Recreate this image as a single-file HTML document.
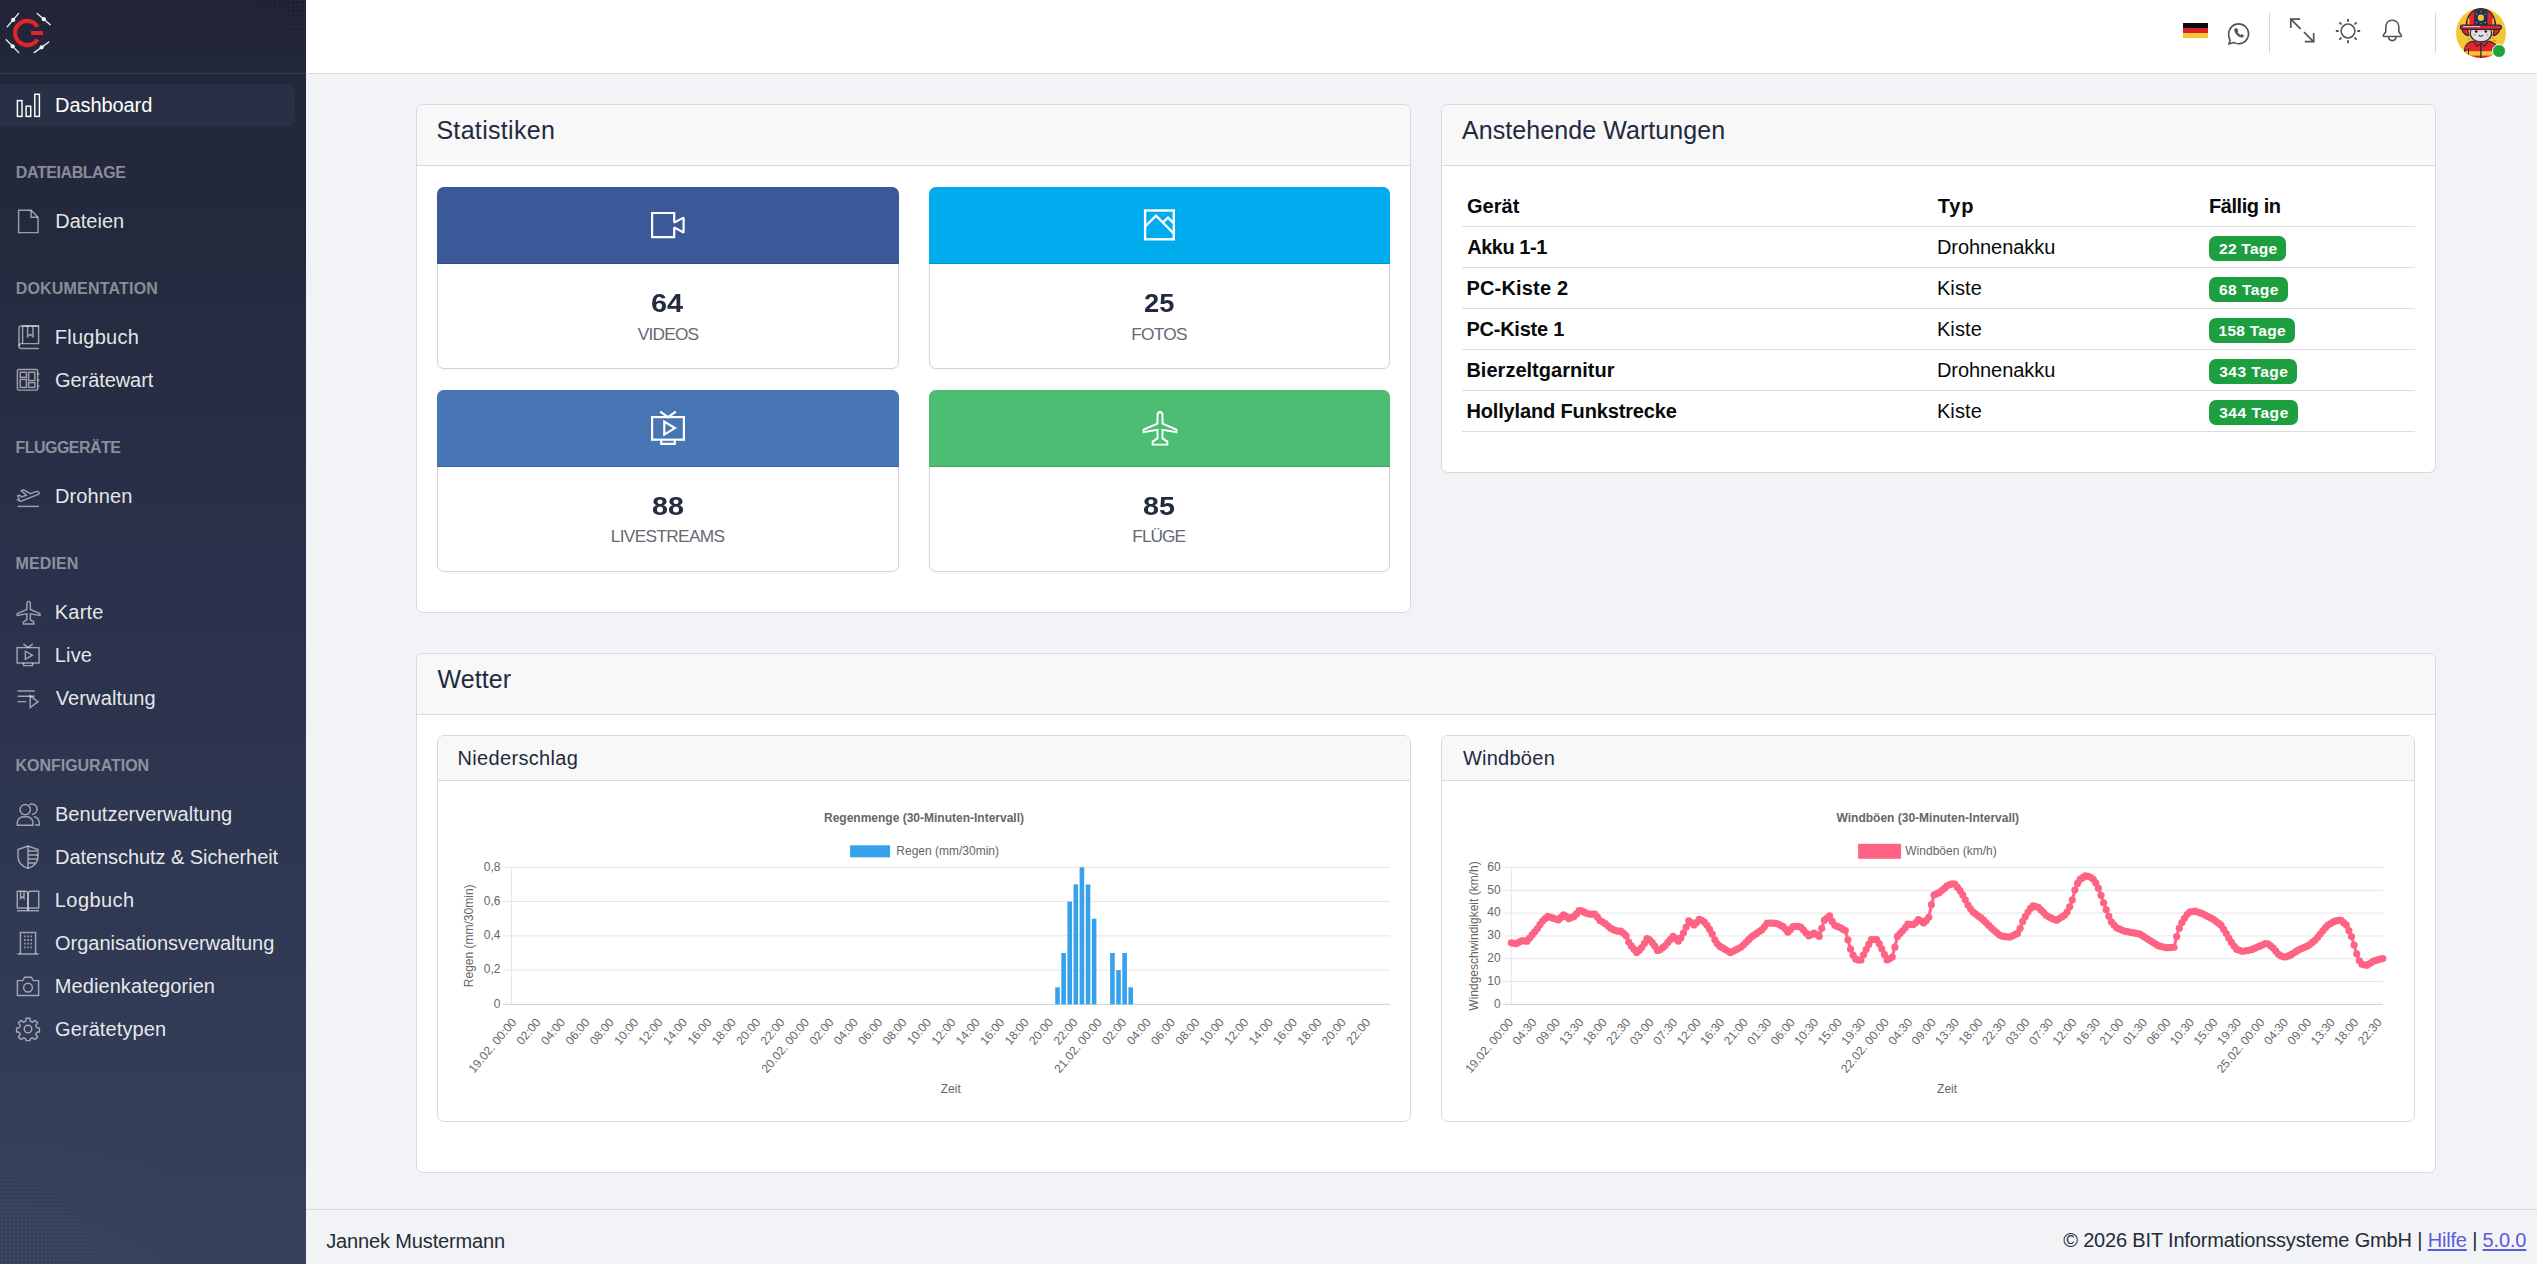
<!DOCTYPE html>
<html lang="de"><head><meta charset="utf-8"><title>Dashboard</title>
<style>
*{box-sizing:border-box;margin:0;padding:0}
html,body{width:2537px;height:1264px;overflow:hidden}
body{position:relative;background:#f2f3f7;font-family:"Liberation Sans", Arial, sans-serif;-webkit-font-smoothing:antialiased}
.t{position:absolute;white-space:nowrap;line-height:1}
.t a{color:#5b5bd8;text-decoration:underline;text-underline-offset:2px}
.ic{position:absolute;overflow:visible}
#sb{position:absolute;left:0;top:0;width:306px;height:1264px;background:linear-gradient(180deg,#212537 0%,#242a3e 20%,#2a314a 45%,#2f3852 70%,#36415b 100%)}
#hd{position:absolute;left:306px;top:0;width:2231px;height:74px;background:#fff;border-bottom:1px solid #d8dbe2}
.card{position:absolute;background:#fff;border:1px solid #d6d8dd;border-radius:7px;overflow:hidden}
.ch{background:#f8f8f9;border-bottom:1px solid #d6d8dd}
.sbox{position:absolute;background:#fff;border:1px solid #d3d5da;border-radius:7px;box-shadow:0 1px 2px rgba(0,0,0,.04)}
.sbox .sh{border-radius:7px 7px 0 0}
.sh{position:absolute;left:-1px;right:-1px;top:-1px;height:77px;box-shadow:inset 0 -1px 0 rgba(0,0,0,.14)}
.badge{position:absolute;height:24.6px;border-radius:7px;background:#1d9f40}
</style></head>
<body>
<div id="sb">
<svg style="position:absolute;left:0;top:0" width="64" height="64" viewBox="0 0 64 64">
<g stroke="#f2f2f2" stroke-width="1.3" stroke-linecap="round" fill="#f4f4f4">
<path d="M7.2 26.8L18.6 13.4M37.2 13.4L50.2 24.8M6.2 39.8L18.8 52.6M34.2 52.6L48.8 42"/>
<circle cx="13.2" cy="19.9" r="2.1" stroke="none"/><circle cx="43.8" cy="19.2" r="2.1" stroke="none"/>
<circle cx="12.6" cy="46.3" r="2.1" stroke="none"/><circle cx="41.6" cy="47.3" r="2.1" stroke="none"/>
</g>
<path d="M37.57 26.77A12.1 12.1 0 1 0 37.57 39.23" fill="none" stroke="#e3222a" stroke-width="4.2"/>
<rect x="31.1" y="31" width="11.9" height="4" fill="#e3222a"/>
</svg>
<div style="position:absolute;left:0;top:1070px;width:215px;height:194px;background-image:radial-gradient(circle,rgba(140,145,160,.45) 0.45px,transparent 0.8px);background-size:4px 4px;-webkit-mask-image:radial-gradient(ellipse 100% 100% at 0% 100%,#000 10%,transparent 92%);mask-image:radial-gradient(ellipse 100% 100% at 0% 100%,#000 10%,transparent 92%)"></div>
<div style="position:absolute;left:228px;top:0;width:78px;height:58px;background-image:radial-gradient(circle,rgba(10,12,18,.8) 0.6px,transparent 1px);background-size:4.5px 4.5px;-webkit-mask-image:radial-gradient(ellipse 100% 100% at 100% 0%,#000 15%,transparent 95%);mask-image:radial-gradient(ellipse 100% 100% at 100% 0%,#000 15%,transparent 95%)"></div>
<div style="position:absolute;left:0;top:73px;width:306px;height:1px;background:rgba(110,140,190,.2)"></div>
<div style="position:absolute;left:0;top:84px;width:295px;height:42px;background:rgba(120,150,200,.085);border-radius:0 7px 7px 0"></div>
<div class="t" style="left:55.00px;top:95.27px;font-size:20px;color:#ffffff;letter-spacing:-0.062px;">Dashboard</div>
<svg class="ic" style="left:16px;top:93px" width="24" height="24" viewBox="0 0 24 24" fill="none" stroke="#ffffff" stroke-width="1.45"><rect x="1.4" y="7.6" width="4.6" height="15.8"/><rect x="10.1" y="13.2" width="4.6" height="10.2"/><rect x="18.8" y="1.3" width="4.6" height="22.1"/></svg>
<div class="t" style="left:15.86px;top:165.46px;font-size:16px;color:rgba(255,255,255,.47);font-weight:700;letter-spacing:-0.432px;">DATEIABLAGE</div>
<div class="t" style="left:55.30px;top:211.27px;font-size:20px;color:rgba(255,255,255,.9);letter-spacing:-0.017px;">Dateien</div>
<svg class="ic" style="left:16px;top:209px" width="24" height="24" viewBox="0 0 24 24" fill="none" stroke="rgba(255,255,255,.55)" stroke-width="1.45"><path d="M2.6 1.3H15.1L22 8.2V23.6H2.6Z"/><path d="M15.1 1.3V8.2H22"/></svg>
<div class="t" style="left:15.76px;top:281.46px;font-size:16px;color:rgba(255,255,255,.47);font-weight:700;letter-spacing:0.187px;">DOKUMENTATION</div>
<div class="t" style="left:54.80px;top:327.27px;font-size:20px;color:rgba(255,255,255,.9);letter-spacing:0.243px;">Flugbuch</div>
<svg class="ic" style="left:16px;top:325px" width="24" height="24" viewBox="0 0 24 24" fill="none" stroke="rgba(255,255,255,.55)" stroke-width="1.45"><path d="M23 1H5.2C3.8 1 3 1.8 3 3.2V21.6C3 23 3.8 23.4 5.2 23.4H23"/><path d="M6.6 1V18.6"/><path d="M6.6 1H22.6V18.6H5.2C3.8 18.6 3 19.6 3 21"/><path d="M11.6 1V11.6L14.3 9.2L17 11.6V1"/></svg>
<div class="t" style="left:55.00px;top:370.27px;font-size:20px;color:rgba(255,255,255,.9);letter-spacing:-0.067px;">Gerätewart</div>
<svg class="ic" style="left:16px;top:368px" width="24" height="24" viewBox="0 0 24 24" fill="none" stroke="rgba(255,255,255,.55)" stroke-width="1.45"><rect x="1.4" y="1.5" width="20.2" height="20.6" rx="1"/><rect x="4.2" y="4.3" width="6.2" height="5"/><rect x="12.6" y="4.3" width="6.2" height="8.2"/><rect x="4.2" y="11.4" width="6.2" height="8"/><rect x="12.6" y="14.6" width="6.2" height="4.8"/><path d="M21.6 6H23.4M21.6 12H23.4M21.6 18H23.4"/></svg>
<div class="t" style="left:15.56px;top:440.46px;font-size:16px;color:rgba(255,255,255,.47);font-weight:700;letter-spacing:-0.540px;">FLUGGERÄTE</div>
<div class="t" style="left:55.00px;top:486.27px;font-size:20px;color:rgba(255,255,255,.9);letter-spacing:0.117px;">Drohnen</div>
<svg class="ic" style="left:16px;top:484px" width="24" height="24" viewBox="0 0 24 24" fill="none" stroke="rgba(255,255,255,.55)" stroke-width="1.45"><path d="M1.6 15.6L4.4 17.4L22.2 10.4C23.4 9.9 23.6 8.6 22.6 8C21.6 7.4 20.4 7.5 19.2 7.9L14.6 9.6L7.4 5.9L5.3 6.7L10.4 11.2L5.8 12.9L3.4 11.2L1.6 11.9L3.2 15Z"/><path d="M1.6 22.4H23"/></svg>
<div class="t" style="left:15.56px;top:556.46px;font-size:16px;color:rgba(255,255,255,.47);font-weight:700;letter-spacing:0.104px;">MEDIEN</div>
<div class="t" style="left:54.80px;top:602.27px;font-size:20px;color:rgba(255,255,255,.9);letter-spacing:0.200px;">Karte</div>
<svg class="ic" style="left:16px;top:600px" width="24" height="24" viewBox="0 0 24 24" fill="none" stroke="rgba(255,255,255,.55)" stroke-width="1.45"><path transform="translate(-1.3,-0.7) scale(0.695)" stroke-width="2.1" d="M20 3C18.3 3 17.5 4.6 17.5 6.6V14.6L3.6 20.6V23.2L17.5 20.8V29.4L12.6 32.6V35.6H27.4V32.6L22.5 29.4V20.8L36.4 23.2V20.6L22.5 14.6V6.6C22.5 4.6 21.7 3 20 3Z"/></svg>
<div class="t" style="left:54.80px;top:645.27px;font-size:20px;color:rgba(255,255,255,.9);letter-spacing:0.167px;">Live</div>
<svg class="ic" style="left:16px;top:643px" width="24" height="24" viewBox="0 0 24 24" fill="none" stroke="rgba(255,255,255,.55)" stroke-width="1.45"><rect x="1.1" y="4.6" width="22" height="15.4"/><path d="M7.6 19.8V22.6H16.6V19.8"/><path d="M7.4 0.9L12.1 4.6L16.8 0.9"/><path d="M9.4 8.2V16.3L16.4 12.2Z"/></svg>
<div class="t" style="left:55.70px;top:688.27px;font-size:20px;color:rgba(255,255,255,.9);letter-spacing:0.122px;">Verwaltung</div>
<svg class="ic" style="left:16px;top:686px" width="24" height="24" viewBox="0 0 24 24" fill="none" stroke="rgba(255,255,255,.55)" stroke-width="1.45"><path d="M1.6 5H18.7M1.6 10.3H18.7M1.6 15.6H10.2"/><path d="M14.2 9.8V21.6L22 15.7Z"/></svg>
<div class="t" style="left:15.56px;top:758.46px;font-size:16px;color:rgba(255,255,255,.47);font-weight:700;letter-spacing:-0.028px;">KONFIGURATION</div>
<div class="t" style="left:55.00px;top:804.27px;font-size:20px;color:rgba(255,255,255,.9);letter-spacing:0.024px;">Benutzerverwaltung</div>
<svg class="ic" style="left:16px;top:802px" width="24" height="24" viewBox="0 0 24 24" fill="none" stroke="rgba(255,255,255,.55)" stroke-width="1.45"><circle cx="9.2" cy="7.6" r="5.2"/><path d="M1.3 23.2V20.8C1.3 17.4 4.1 14.8 7.4 14.8H11C14.3 14.8 17 17.4 17 20.8V23.2Z"/><path d="M13.4 2.6C14.2 2.2 15 2 15.9 2C18.8 2 21.1 4.3 21.1 7.2C21.1 10 18.8 12.4 15.9 12.4"/><path d="M17.9 14.8C21 15 23.3 17.6 23.3 20.6V23H19"/></svg>
<div class="t" style="left:55.00px;top:847.27px;font-size:20px;color:rgba(255,255,255,.9);letter-spacing:-0.061px;">Datenschutz &amp; Sicherheit</div>
<svg class="ic" style="left:16px;top:845px" width="24" height="24" viewBox="0 0 24 24" fill="none" stroke="rgba(255,255,255,.55)" stroke-width="1.45"><path d="M12 1L2 4.6V11.6C2 17.6 6.4 21.6 12 23.4C17.6 21.6 22 17.6 22 11.6V4.6Z"/><path d="M12 1V23.4M12 6H21M12 10H22M12 14H21.2M12 18H19"/></svg>
<div class="t" style="left:54.80px;top:890.27px;font-size:20px;color:rgba(255,255,255,.9);letter-spacing:0.433px;">Logbuch</div>
<svg class="ic" style="left:16px;top:888px" width="24" height="24" viewBox="0 0 24 24" fill="none" stroke="rgba(255,255,255,.55)" stroke-width="1.45"><path d="M1.3 3.3H9.2C10.8 3.3 12 4.6 12 6.1V22.2C12 21 10.9 20 9.6 20H1.3Z"/><path d="M22.7 3.3H14.8C13.2 3.3 12 4.6 12 6.1V22.2C12 21 13.1 20 14.4 20H22.7Z"/><path d="M4.6 3.3V10.3L6.3 8.7L8 10.3V3.3"/><path d="M1 22.7H23"/></svg>
<div class="t" style="left:55.10px;top:933.27px;font-size:20px;color:rgba(255,255,255,.9);letter-spacing:-0.041px;">Organisationsverwaltung</div>
<svg class="ic" style="left:16px;top:931px" width="24" height="24" viewBox="0 0 24 24" fill="none" stroke="rgba(255,255,255,.55)" stroke-width="1.45"><path d="M4.4 23V1.4H19.6V23"/><path d="M1.4 23H22.6"/><path d="M8.2 5.3h1.4M11.4 5.3h1.4M14.6 5.3h1.4M8.2 9h1.4M11.4 9h1.4M14.6 9h1.4M8.2 12.7h1.4M11.4 12.7h1.4M14.6 12.7h1.4M8.2 16.4h1.4M11.4 16.4h1.4M14.6 16.4h1.4" stroke-width="1.8"/></svg>
<div class="t" style="left:54.80px;top:976.27px;font-size:20px;color:rgba(255,255,255,.9);letter-spacing:0.080px;">Medienkategorien</div>
<svg class="ic" style="left:16px;top:974px" width="24" height="24" viewBox="0 0 24 24" fill="none" stroke="rgba(255,255,255,.55)" stroke-width="1.45"><path d="M1.4 6.6H6.8L8.6 3.2H15.4L17.2 6.6H22.6V21.4H1.4Z"/><circle cx="12" cy="13.6" r="4.4"/></svg>
<div class="t" style="left:55.00px;top:1019.27px;font-size:20px;color:rgba(255,255,255,.9);letter-spacing:0.100px;">Gerätetypen</div>
<svg class="ic" style="left:16px;top:1017px" width="24" height="24" viewBox="0 0 24 24" fill="none" stroke="rgba(255,255,255,.55)" stroke-width="1.45"><circle cx="12" cy="12" r="3.8"/><path d="M10.2 1.2H13.8L14.4 4.2L16.4 5.1L19 3.4L21.5 5.9L19.8 8.5L20.7 10.6L23.4 11.2V14.8L20.7 15.4L19.8 17.5L21.5 20.1L19 22.6L16.4 20.9L14.4 21.8L13.8 23.6H10.2L9.6 21.8L7.6 20.9L5 22.6L2.5 20.1L4.2 17.5L3.3 15.4L0.6 14.8V11.2L3.3 10.6L4.2 8.5L2.5 5.9L5 3.4L7.6 5.1L9.6 4.2Z"/></svg>
</div>
<div id="hd"></div>

<svg class="ic" style="left:2183px;top:23px" width="25" height="15"><rect width="25" height="5" fill="#0b0c10"/><rect y="5" width="25" height="5" fill="#dd1f26"/><rect y="10" width="25" height="5" fill="#f3c834"/></svg>
<svg class="ic" style="left:2226px;top:21px" width="25" height="25" viewBox="0 0 25 25" fill="none" stroke="#4f545c" stroke-width="1.6" stroke-linejoin="round">
<path d="M4.2 19.3C3.2 17.7 2.6 15.6 2.6 13.6C2.6 7.3 7.1 2.9 12.6 2.9C18.1 2.9 22.6 7.3 22.6 12.8C22.6 18.3 18.1 22.7 12.6 22.7C10.7 22.7 9.1 22.3 7.6 21.4L2.7 23Z"/>
<path d="M9.6 7.4C9 7.7 8.6 8.4 8.7 9.2C9.2 12.6 11.9 15.4 15.3 16.1C16.1 16.3 16.9 15.9 17.3 15.3L17.5 14.6L15.5 13.5L14.5 14.4C13 13.7 11.8 12.4 11.1 11L12 10.1L11.1 8Z" stroke-width="0.9" fill="#4f545c"/>
</svg>
<div style="position:absolute;left:2269px;top:13px;width:1px;height:40px;background:#d3d5da"></div>
<svg class="ic" style="left:2286px;top:15px" width="32" height="32" viewBox="0 0 32 32" fill="none" stroke="#4f545c" stroke-width="1.7">
<path d="M4.8 4.1L14.6 13.9M18 17.2L27.7 26.9"/><path d="M14.1 4.1H4.8V12.9"/><path d="M18.8 26.7H27.7V17.9"/>
</svg>
<svg class="ic" style="left:2332px;top:15px" width="32" height="32" viewBox="0 0 32 32" fill="none" stroke="#4f545c" stroke-width="1.5" stroke-linecap="round">
<circle cx="16" cy="16" r="6.9"/>
<path d="M16 4.6V6M16 26V27.4M4.6 16H6M26 16H27.4M8 8L8.9 8.9M23.1 23.1L24 24M8 24L8.9 23.1M23.1 8.9L24 8" stroke-width="1.9"/>
</svg>
<svg class="ic" style="left:2376px;top:14px" width="32" height="32" viewBox="0 0 32 32" fill="none" stroke="#4f545c" stroke-width="1.6" stroke-linejoin="round">
<path d="M16.3 6.2C12.3 6.2 9.8 9.2 9.8 13V17.8L7.2 21.4C7 21.9 7.3 22.5 7.9 22.5H24.7C25.3 22.5 25.6 21.9 25.4 21.4L22.8 17.8V13C22.8 9.2 20.3 6.2 16.3 6.2Z"/>
<path d="M12.6 22.6C12.6 25 14.2 26.6 16.3 26.6C18.4 26.6 20 25 20 22.6"/>
</svg>
<div style="position:absolute;left:2435px;top:13px;width:1px;height:40px;background:#d3d5da"></div>

<svg class="ic" style="left:2456px;top:8px" width="50" height="50" viewBox="0 0 50 50">
<defs><clipPath id="avc"><circle cx="25" cy="25" r="25"/></clipPath></defs>
<circle cx="25" cy="25" r="25" fill="#f4c534"/>
<g clip-path="url(#avc)">
<g fill="#e4262a"><circle cx="13" cy="31" r=".6"/><circle cx="15" cy="33.5" r=".6"/><circle cx="17" cy="35" r=".6"/><circle cx="37" cy="30.5" r=".6"/><circle cx="39" cy="32.5" r=".6"/><circle cx="36" cy="34.5" r=".6"/></g>
<path d="M8.6 52V41.5C8.6 37.3 12.2 34.2 16.8 33.4H33.2C37.8 34.2 41.4 37.3 41.4 41.5V52Z" fill="#e4262a" stroke="#1f2a44" stroke-width="1.2"/>
<rect x="9.2" y="43.2" width="31.6" height="4.4" fill="#f4c534"/>
<path d="M12.5 40V52M37.5 40V52" stroke="#1f2a44" stroke-width="1"/>
<path d="M24.9 35.7V52" stroke="#1f2a44" stroke-width="1.3"/>
<path d="M17.5 33.2L21.2 38.4L24.9 35.2L28.6 38.4L32.3 33.2" fill="#e4262a" stroke="#1f2a44" stroke-width="1.1" stroke-linejoin="round"/>
<path d="M5.6 20.4L11.6 20.4L12.6 27.6C10 27.6 6.6 25 5.6 20.4Z M44.2 20.4L38.2 20.4L37.2 27.6C39.8 27.6 43.2 25 44.2 20.4Z" fill="#e4262a" stroke="#1f2a44" stroke-width="1.1"/>
<ellipse cx="24.9" cy="25.6" rx="10.6" ry="8.2" fill="#dfe1e6" stroke="#1f2a44" stroke-width="1.2"/>
<rect x="15" y="20.3" width="19.8" height="3.4" fill="#f6b8c2" opacity=".7"/>
<circle cx="20.2" cy="23.4" r="1.25" fill="#111"/><circle cx="29.8" cy="23.4" r="1.25" fill="#111"/>
<path d="M22.7 27.2Q24.9 29.3 27.1 27.2" fill="none" stroke="#1f2a44" stroke-width="1.1"/>
<circle cx="18.6" cy="26.7" r="1.3" fill="#f5a0ae"/><circle cx="31.2" cy="26.7" r="1.3" fill="#f5a0ae"/>
<path d="M10.2 18.6C10.2 7.4 16.8 0.6 24.9 0.6C33 0.6 39.6 7.4 39.6 18.6Z" fill="#e4262a" stroke="#1f2a44" stroke-width="1.3"/>
<path d="M12.6 18V10.4M37.2 18V10.4" stroke="#f4c534" stroke-width="1.6"/>
<path d="M18.2 18.2V3.4C20.4 1.8 22.6 1.2 24.9 1.2C27.2 1.2 29.4 1.8 31.6 3.4V18.2Z" fill="#26314d"/>
<g fill="#9aa3b8"><rect x="20" y="5.5" width="1.2" height="1.2"/><rect x="28.6" y="5.5" width="1.2" height="1.2"/><rect x="20" y="14" width="1.2" height="1.2"/><rect x="28.6" y="14" width="1.2" height="1.2"/><rect x="24.3" y="15.2" width="1.2" height="1.2"/><rect x="24.3" y="3.2" width="1.2" height="1.2"/></g>
<circle cx="24.9" cy="9.7" r="3.1" fill="#f4c534"/>
<path d="M4.4 19.3C4.4 17.9 5.4 17.2 6.8 17.2H43C44.4 17.2 45.4 17.9 45.4 19.3C45.4 20.6 44.6 21.3 43.2 21.3H6.6C5.2 21.3 4.4 20.6 4.4 19.3Z" fill="#e4262a" stroke="#1f2a44" stroke-width="1.2"/>
<path d="M7 18.6H24" stroke="#f8c0c4" stroke-width="1"/>
</g>
</svg>
<div style="position:absolute;left:2491.6px;top:43.6px;width:14.8px;height:14.8px;border-radius:50%;background:#1ea33f;border:1.4px solid #fff"></div>

<div class="card" style="left:416px;top:104px;width:995px;height:509px"><div class="ch" style="height:61px"></div></div><div class="t" style="left:436.38px;top:117.94px;font-size:25px;color:#222a3d;letter-spacing:0.320px;">Statistiken</div>
<div class="card" style="left:1441px;top:104px;width:995px;height:369px"><div class="ch" style="height:61px"></div></div><div class="t" style="left:1462.08px;top:117.84px;font-size:25px;color:#222a3d;letter-spacing:0.068px;">Anstehende Wartungen</div>
<div class="card" style="left:416px;top:653px;width:2020px;height:520px"><div class="ch" style="height:61px"></div></div><div class="t" style="left:437.57px;top:666.94px;font-size:25px;color:#222a3d;letter-spacing:0.075px;">Wetter</div>
<div class="card" style="left:437px;top:735px;width:974px;height:387px"><div class="ch" style="height:45px"></div></div><div class="t" style="left:457.60px;top:748.17px;font-size:20px;color:#222a3d;letter-spacing:0.318px;">Niederschlag</div>
<div class="card" style="left:1441px;top:735px;width:974px;height:387px"><div class="ch" style="height:45px"></div></div><div class="t" style="left:1462.90px;top:748.37px;font-size:20px;color:#222a3d;letter-spacing:0.257px;">Windböen</div>
<div class="sbox" style="left:437px;top:187px;width:462px;height:182px"><div class="sh" style="background:#3b5998"></div></div>
<svg class="ic" style="left:648.0px;top:206px" width="40" height="40" viewBox="0 0 40 40" fill="none" stroke="#fff" stroke-width="2"><path stroke-width="2.2" stroke-miterlimit="1.5" d="M26.2 16.6V7H4.1V31.1H26.2V21.6L35.6 26.4V11.6Z"/></svg>
<div class="t" style="left:650.99px;top:290.84px;font-size:25px;color:#232b40;font-weight:700;transform:scaleX(1.1551);transform-origin:0 0;">64</div>
<div class="t" style="left:637.71px;top:326.46px;font-size:17.3px;color:#656971;letter-spacing:-0.788px;">VIDEOS</div>
<div class="sbox" style="left:929px;top:187px;width:461px;height:182px"><div class="sh" style="background:#00aced"></div></div>
<svg class="ic" style="left:1139.5px;top:206px" width="40" height="40" viewBox="0 0 40 40" fill="none" stroke="#fff" stroke-width="2"><rect x="5.1" y="4.5" width="28.7" height="28.8" stroke-width="2.4"/><path d="M5.1 20.5L16 9.6L34 27.8" stroke-width="2.3"/><path d="M22.8 16.4L28 11.6L34 17.6" stroke-width="2.3"/></svg>
<div class="t" style="left:1144.05px;top:290.64px;font-size:25px;color:#232b40;font-weight:700;transform:scaleX(1.0895);transform-origin:0 0;">25</div>
<div class="t" style="left:1131.22px;top:326.16px;font-size:17.3px;color:#656971;letter-spacing:-0.697px;">FOTOS</div>
<div class="sbox" style="left:437px;top:390px;width:462px;height:182px"><div class="sh" style="background:#4875b4"></div></div>
<svg class="ic" style="left:648.0px;top:409px" width="40" height="40" viewBox="0 0 40 40" fill="none" stroke="#fff" stroke-width="2"><rect x="4.1" y="8.1" width="31.8" height="22.6" stroke-width="2.2"/><path d="M13.2 30.7V34.9H26.8V30.7" stroke-width="2.2"/><path d="M12.2 2.6L20 8.1L27.8 2.6" stroke-width="2.2"/><path d="M16.3 12.6V25.6L26.9 19.1Z" stroke-width="2.2"/></svg>
<div class="t" style="left:651.84px;top:493.84px;font-size:25px;color:#232b40;font-weight:700;transform:scaleX(1.1467);transform-origin:0 0;">88</div>
<div class="t" style="left:610.72px;top:528.26px;font-size:17.3px;color:#656971;letter-spacing:-0.664px;">LIVESTREAMS</div>
<div class="sbox" style="left:929px;top:390px;width:461px;height:182px"><div class="sh" style="background:#4dbd74"></div></div>
<svg class="ic" style="left:1139.5px;top:409px" width="40" height="40" viewBox="0 0 40 40" fill="none" stroke="#fff" stroke-width="2"><path stroke-width="1.9" d="M20 3C18.3 3 17.5 4.6 17.5 6.6V14.6L3.6 20.6V23.2L17.5 20.8V29.4L12.6 32.6V35.6H27.4V32.6L22.5 29.4V20.8L36.4 23.2V20.6L22.5 14.6V6.6C22.5 4.6 21.7 3 20 3Z"/></svg>
<div class="t" style="left:1143.04px;top:494.14px;font-size:25px;color:#232b40;font-weight:700;transform:scaleX(1.1488);transform-origin:0 0;">85</div>
<div class="t" style="left:1132.32px;top:528.36px;font-size:17.3px;color:#656971;letter-spacing:-0.983px;">FLÜGE</div>
<div class="t" style="left:1466.90px;top:196.17px;font-size:20px;color:#080a0c;font-weight:700;letter-spacing:0.050px;">Gerät</div>
<div class="t" style="left:1937.80px;top:196.17px;font-size:20px;color:#080a0c;font-weight:700;letter-spacing:0.800px;">Typ</div>
<div class="t" style="left:2209.00px;top:196.17px;font-size:20px;color:#080a0c;font-weight:700;letter-spacing:-0.438px;">Fällig in</div>
<div style="position:absolute;left:1462px;top:226px;width:953px;height:1px;background:#dbdde3"></div>
<div style="position:absolute;left:1462px;top:267px;width:953px;height:1px;background:#dbdde3"></div>
<div style="position:absolute;left:1462px;top:308px;width:953px;height:1px;background:#dbdde3"></div>
<div style="position:absolute;left:1462px;top:349px;width:953px;height:1px;background:#dbdde3"></div>
<div style="position:absolute;left:1462px;top:390px;width:953px;height:1px;background:#dbdde3"></div>
<div style="position:absolute;left:1462px;top:431px;width:953px;height:1px;background:#dbdde3"></div>
<div class="t" style="left:1467.20px;top:237.07px;font-size:20px;color:#080a0c;font-weight:700;letter-spacing:-0.457px;">Akku 1-1</div>
<div class="t" style="left:1936.90px;top:237.07px;font-size:20px;color:#080a0c;letter-spacing:-0.050px;">Drohnenakku</div>
<div class="badge" style="left:2209px;top:236.20px;width:77.0px"></div>
<div class="t" style="left:2219.06px;top:240.88px;font-size:15.5px;color:#fff;font-weight:700;letter-spacing:0.252px;">22 Tage</div>
<div class="t" style="left:1466.40px;top:278.02px;font-size:20px;color:#080a0c;font-weight:700;letter-spacing:0.189px;">PC-Kiste 2</div>
<div class="t" style="left:1936.90px;top:278.02px;font-size:20px;color:#080a0c;letter-spacing:0.125px;">Kiste</div>
<div class="badge" style="left:2209px;top:277.15px;width:79.0px"></div>
<div class="t" style="left:2219.06px;top:281.83px;font-size:15.5px;color:#fff;font-weight:700;letter-spacing:0.452px;">68 Tage</div>
<div class="t" style="left:1466.40px;top:318.97px;font-size:20px;color:#080a0c;font-weight:700;letter-spacing:-0.233px;">PC-Kiste 1</div>
<div class="t" style="left:1936.90px;top:318.97px;font-size:20px;color:#080a0c;letter-spacing:0.125px;">Kiste</div>
<div class="badge" style="left:2209px;top:318.10px;width:85.7px"></div>
<div class="t" style="left:2218.59px;top:322.78px;font-size:15.5px;color:#fff;font-weight:700;letter-spacing:0.253px;">158 Tage</div>
<div class="t" style="left:1466.40px;top:359.92px;font-size:20px;color:#080a0c;font-weight:700;letter-spacing:0.020px;">Bierzeltgarnitur</div>
<div class="t" style="left:1936.90px;top:359.92px;font-size:20px;color:#080a0c;letter-spacing:-0.050px;">Drohnenakku</div>
<div class="badge" style="left:2209px;top:359.05px;width:88.0px"></div>
<div class="t" style="left:2219.21px;top:363.73px;font-size:15.5px;color:#fff;font-weight:700;letter-spacing:0.493px;">343 Tage</div>
<div class="t" style="left:1466.40px;top:400.87px;font-size:20px;color:#080a0c;font-weight:700;letter-spacing:-0.145px;">Hollyland Funkstrecke</div>
<div class="t" style="left:1936.90px;top:400.87px;font-size:20px;color:#080a0c;letter-spacing:0.125px;">Kiste</div>
<div class="badge" style="left:2209px;top:400.00px;width:88.7px"></div>
<div class="t" style="left:2219.21px;top:404.68px;font-size:15.5px;color:#fff;font-weight:700;letter-spacing:0.550px;">344 Tage</div>
<svg class="ic" style="left:0;top:0" width="2537" height="1264" font-family="'Liberation Sans', Arial, sans-serif" font-size="12" fill="#666666"><line x1="503.2" y1="867.30" x2="1390.0" y2="867.30" stroke="#e5e5e5" stroke-width="1"/><text x="500.4" y="870.60" text-anchor="end">0,8</text><line x1="503.2" y1="901.57" x2="1390.0" y2="901.57" stroke="#e5e5e5" stroke-width="1"/><text x="500.4" y="904.87" text-anchor="end">0,6</text><line x1="503.2" y1="935.85" x2="1390.0" y2="935.85" stroke="#e5e5e5" stroke-width="1"/><text x="500.4" y="939.15" text-anchor="end">0,4</text><line x1="503.2" y1="970.12" x2="1390.0" y2="970.12" stroke="#e5e5e5" stroke-width="1"/><text x="500.4" y="973.42" text-anchor="end">0,2</text><line x1="503.2" y1="1004.40" x2="1390.0" y2="1004.40" stroke="#d0d0d0" stroke-width="1"/><text x="500.4" y="1007.70" text-anchor="end">0</text><line x1="511.50" y1="867.30" x2="511.50" y2="1004.40" stroke="#e5e5e5" stroke-width="1"/><text x="0" y="0" text-anchor="middle" transform="translate(473.3,935.8) rotate(-90)">Regen (mm/30min)</text><rect x="1055.21" y="987.26" width="4.6" height="17.14" fill="#36a2eb"/><rect x="1061.31" y="952.99" width="4.6" height="51.41" fill="#36a2eb"/><rect x="1067.41" y="901.57" width="4.6" height="102.83" fill="#36a2eb"/><rect x="1073.51" y="884.44" width="4.6" height="119.96" fill="#36a2eb"/><rect x="1079.61" y="867.30" width="4.6" height="137.10" fill="#36a2eb"/><rect x="1085.72" y="884.44" width="4.6" height="119.96" fill="#36a2eb"/><rect x="1091.82" y="918.71" width="4.6" height="85.69" fill="#36a2eb"/><rect x="1110.12" y="952.99" width="4.6" height="51.41" fill="#36a2eb"/><rect x="1116.22" y="970.12" width="4.6" height="34.28" fill="#36a2eb"/><rect x="1122.32" y="952.99" width="4.6" height="51.41" fill="#36a2eb"/><rect x="1128.42" y="987.26" width="4.6" height="17.14" fill="#36a2eb"/><text x="0" y="0" dy="8.9" text-anchor="end" transform="translate(510.15,1016.9) rotate(-50)">19.02. 00:00</text><text x="0" y="0" dy="8.9" text-anchor="end" transform="translate(534.55,1016.9) rotate(-50)">02:00</text><text x="0" y="0" dy="8.9" text-anchor="end" transform="translate(558.96,1016.9) rotate(-50)">04:00</text><text x="0" y="0" dy="8.9" text-anchor="end" transform="translate(583.36,1016.9) rotate(-50)">06:00</text><text x="0" y="0" dy="8.9" text-anchor="end" transform="translate(607.76,1016.9) rotate(-50)">08:00</text><text x="0" y="0" dy="8.9" text-anchor="end" transform="translate(632.16,1016.9) rotate(-50)">10:00</text><text x="0" y="0" dy="8.9" text-anchor="end" transform="translate(656.57,1016.9) rotate(-50)">12:00</text><text x="0" y="0" dy="8.9" text-anchor="end" transform="translate(680.97,1016.9) rotate(-50)">14:00</text><text x="0" y="0" dy="8.9" text-anchor="end" transform="translate(705.37,1016.9) rotate(-50)">16:00</text><text x="0" y="0" dy="8.9" text-anchor="end" transform="translate(729.78,1016.9) rotate(-50)">18:00</text><text x="0" y="0" dy="8.9" text-anchor="end" transform="translate(754.18,1016.9) rotate(-50)">20:00</text><text x="0" y="0" dy="8.9" text-anchor="end" transform="translate(778.58,1016.9) rotate(-50)">22:00</text><text x="0" y="0" dy="8.9" text-anchor="end" transform="translate(802.98,1016.9) rotate(-50)">20.02. 00:00</text><text x="0" y="0" dy="8.9" text-anchor="end" transform="translate(827.39,1016.9) rotate(-50)">02:00</text><text x="0" y="0" dy="8.9" text-anchor="end" transform="translate(851.79,1016.9) rotate(-50)">04:00</text><text x="0" y="0" dy="8.9" text-anchor="end" transform="translate(876.19,1016.9) rotate(-50)">06:00</text><text x="0" y="0" dy="8.9" text-anchor="end" transform="translate(900.59,1016.9) rotate(-50)">08:00</text><text x="0" y="0" dy="8.9" text-anchor="end" transform="translate(925.00,1016.9) rotate(-50)">10:00</text><text x="0" y="0" dy="8.9" text-anchor="end" transform="translate(949.40,1016.9) rotate(-50)">12:00</text><text x="0" y="0" dy="8.9" text-anchor="end" transform="translate(973.80,1016.9) rotate(-50)">14:00</text><text x="0" y="0" dy="8.9" text-anchor="end" transform="translate(998.21,1016.9) rotate(-50)">16:00</text><text x="0" y="0" dy="8.9" text-anchor="end" transform="translate(1022.61,1016.9) rotate(-50)">18:00</text><text x="0" y="0" dy="8.9" text-anchor="end" transform="translate(1047.01,1016.9) rotate(-50)">20:00</text><text x="0" y="0" dy="8.9" text-anchor="end" transform="translate(1071.41,1016.9) rotate(-50)">22:00</text><text x="0" y="0" dy="8.9" text-anchor="end" transform="translate(1095.82,1016.9) rotate(-50)">21.02. 00:00</text><text x="0" y="0" dy="8.9" text-anchor="end" transform="translate(1120.22,1016.9) rotate(-50)">02:00</text><text x="0" y="0" dy="8.9" text-anchor="end" transform="translate(1144.62,1016.9) rotate(-50)">04:00</text><text x="0" y="0" dy="8.9" text-anchor="end" transform="translate(1169.03,1016.9) rotate(-50)">06:00</text><text x="0" y="0" dy="8.9" text-anchor="end" transform="translate(1193.43,1016.9) rotate(-50)">08:00</text><text x="0" y="0" dy="8.9" text-anchor="end" transform="translate(1217.83,1016.9) rotate(-50)">10:00</text><text x="0" y="0" dy="8.9" text-anchor="end" transform="translate(1242.23,1016.9) rotate(-50)">12:00</text><text x="0" y="0" dy="8.9" text-anchor="end" transform="translate(1266.64,1016.9) rotate(-50)">14:00</text><text x="0" y="0" dy="8.9" text-anchor="end" transform="translate(1291.04,1016.9) rotate(-50)">16:00</text><text x="0" y="0" dy="8.9" text-anchor="end" transform="translate(1315.44,1016.9) rotate(-50)">18:00</text><text x="0" y="0" dy="8.9" text-anchor="end" transform="translate(1339.84,1016.9) rotate(-50)">20:00</text><text x="0" y="0" dy="8.9" text-anchor="end" transform="translate(1364.25,1016.9) rotate(-50)">22:00</text><text x="924" y="822.1" text-anchor="middle" font-weight="700">Regenmenge (30-Minuten-Intervall)</text><rect x="850.1" y="845.3" width="40" height="12" fill="#36a2eb"/><text x="896.3" y="854.9">Regen (mm/30min)</text><text x="950.8" y="1093.3" text-anchor="middle">Zeit</text></svg>
<svg class="ic" style="left:0;top:0" width="2537" height="1264" font-family="'Liberation Sans', Arial, sans-serif" font-size="12" fill="#666666"><line x1="1503.0" y1="867.50" x2="2382.8" y2="867.50" stroke="#e5e5e5" stroke-width="1"/><text x="1500.6" y="870.80" text-anchor="end">60</text><line x1="1503.0" y1="890.32" x2="2382.8" y2="890.32" stroke="#e5e5e5" stroke-width="1"/><text x="1500.6" y="893.62" text-anchor="end">50</text><line x1="1503.0" y1="913.13" x2="2382.8" y2="913.13" stroke="#e5e5e5" stroke-width="1"/><text x="1500.6" y="916.43" text-anchor="end">40</text><line x1="1503.0" y1="935.95" x2="2382.8" y2="935.95" stroke="#e5e5e5" stroke-width="1"/><text x="1500.6" y="939.25" text-anchor="end">30</text><line x1="1503.0" y1="958.77" x2="2382.8" y2="958.77" stroke="#e5e5e5" stroke-width="1"/><text x="1500.6" y="962.07" text-anchor="end">20</text><line x1="1503.0" y1="981.58" x2="2382.8" y2="981.58" stroke="#e5e5e5" stroke-width="1"/><text x="1500.6" y="984.88" text-anchor="end">10</text><line x1="1503.0" y1="1004.40" x2="2382.8" y2="1004.40" stroke="#d0d0d0" stroke-width="1"/><text x="1500.6" y="1007.70" text-anchor="end">0</text><line x1="1511.30" y1="867.50" x2="1511.30" y2="1004.40" stroke="#e5e5e5" stroke-width="1"/><text x="0" y="0" text-anchor="middle" transform="translate(1477.7,936.0) rotate(-90)">Windgeschwindigkeit (km/h)</text><path d="M1511.30 942.84 L1513.91 943.29 L1516.52 943.57 L1519.13 942.12 L1521.74 940.75 L1524.35 940.95 L1526.96 941.15 L1529.56 938.22 L1532.17 934.76 L1534.78 931.87 L1537.39 928.56 L1540.00 924.55 L1542.61 921.04 L1545.22 918.63 L1547.83 916.37 L1550.44 917.26 L1553.05 918.15 L1555.66 919.04 L1558.27 919.93 L1560.88 917.44 L1563.49 914.76 L1566.09 916.41 L1568.70 918.53 L1571.31 917.72 L1573.92 916.42 L1576.53 913.97 L1579.14 910.71 L1581.75 910.92 L1584.36 912.21 L1586.97 913.50 L1589.58 914.05 L1592.19 914.05 L1594.80 914.05 L1597.41 917.03 L1600.02 920.49 L1602.62 922.09 L1605.23 923.70 L1607.84 925.80 L1610.45 928.05 L1613.06 929.42 L1615.67 930.72 L1618.28 931.16 L1620.89 931.16 L1623.50 933.36 L1626.11 935.97 L1628.72 942.06 L1631.33 945.91 L1633.94 949.15 L1636.55 952.39 L1639.15 950.17 L1641.76 947.56 L1644.37 943.45 L1646.98 938.56 L1649.59 939.97 L1652.20 942.58 L1654.81 946.12 L1657.42 950.39 L1660.03 949.84 L1662.64 947.67 L1665.25 945.48 L1667.86 942.47 L1670.47 939.46 L1673.08 936.45 L1675.68 938.37 L1678.29 941.27 L1680.90 937.93 L1683.51 932.81 L1686.12 927.10 L1688.73 920.91 L1691.34 922.60 L1693.95 924.94 L1696.56 922.49 L1699.17 919.37 L1701.78 920.34 L1704.39 922.14 L1707.00 925.23 L1709.61 929.35 L1712.21 934.14 L1714.82 939.73 L1717.43 943.74 L1720.04 946.39 L1722.65 947.95 L1725.26 949.50 L1727.87 951.06 L1730.48 952.60 L1733.09 951.26 L1735.70 949.92 L1738.31 948.59 L1740.92 947.25 L1743.53 944.79 L1746.14 942.23 L1748.74 939.66 L1751.35 937.10 L1753.96 935.17 L1756.57 933.39 L1759.18 931.61 L1761.79 929.82 L1764.40 926.78 L1767.01 923.27 L1769.62 923.06 L1772.23 923.18 L1774.84 923.31 L1777.45 923.76 L1780.06 925.10 L1782.67 926.44 L1785.27 928.83 L1787.88 932.13 L1790.49 929.55 L1793.10 926.65 L1795.71 926.37 L1798.32 926.37 L1800.93 927.37 L1803.54 930.18 L1806.15 932.99 L1808.76 935.80 L1811.37 934.58 L1813.98 933.13 L1816.59 934.59 L1819.20 936.37 L1821.80 928.29 L1824.41 920.14 L1827.02 918.02 L1829.63 915.90 L1832.24 921.39 L1834.85 925.24 L1837.46 926.42 L1840.07 927.61 L1842.68 929.08 L1845.29 930.59 L1847.90 939.87 L1850.51 949.12 L1853.12 955.15 L1855.73 958.98 L1858.33 959.98 L1860.94 959.98 L1863.55 954.79 L1866.16 949.61 L1868.77 944.43 L1871.38 939.60 L1873.99 939.60 L1876.60 939.60 L1879.21 943.69 L1881.82 948.83 L1884.43 954.40 L1887.04 959.97 L1889.65 958.75 L1892.26 957.02 L1894.86 947.21 L1897.47 936.45 L1900.08 933.61 L1902.69 930.77 L1905.30 927.70 L1907.91 924.19 L1910.52 924.38 L1913.13 924.68 L1915.74 922.67 L1918.35 919.66 L1920.96 921.06 L1923.57 923.06 L1926.18 920.65 L1928.79 917.34 L1931.39 904.67 L1934.00 895.04 L1936.61 893.78 L1939.22 892.53 L1941.83 890.56 L1944.44 888.26 L1947.05 885.97 L1949.66 884.48 L1952.27 883.78 L1954.88 884.02 L1957.49 887.33 L1960.10 890.64 L1962.71 894.95 L1965.31 899.85 L1967.92 905.11 L1970.53 908.82 L1973.14 912.08 L1975.75 914.08 L1978.36 916.03 L1980.97 917.97 L1983.58 920.14 L1986.19 922.79 L1988.80 925.45 L1991.41 928.04 L1994.02 930.30 L1996.63 932.56 L1999.24 934.82 L2001.84 936.11 L2004.45 936.42 L2007.06 936.73 L2009.67 937.05 L2012.28 935.98 L2014.89 934.69 L2017.50 933.40 L2020.11 928.32 L2022.72 921.42 L2025.33 916.57 L2027.94 912.08 L2030.55 908.45 L2033.16 905.78 L2035.77 906.58 L2038.37 907.38 L2040.98 909.93 L2043.59 912.59 L2046.20 915.24 L2048.81 916.83 L2051.42 918.08 L2054.03 919.33 L2056.64 920.23 L2059.25 918.60 L2061.86 916.97 L2064.47 915.34 L2067.08 912.01 L2069.69 906.87 L2072.30 899.97 L2074.90 890.11 L2077.51 883.40 L2080.12 879.43 L2082.73 877.67 L2085.34 875.92 L2087.95 876.24 L2090.56 877.25 L2093.17 879.25 L2095.78 882.97 L2098.39 888.15 L2101.00 895.30 L2103.61 902.97 L2106.22 909.79 L2108.83 916.26 L2111.43 921.88 L2114.04 925.06 L2116.65 927.86 L2119.26 928.93 L2121.87 930.01 L2124.48 931.08 L2127.09 931.62 L2129.70 932.13 L2132.31 932.63 L2134.92 933.13 L2137.53 933.63 L2140.14 934.15 L2142.75 935.87 L2145.36 937.59 L2147.96 939.31 L2150.57 940.96 L2153.18 942.59 L2155.79 944.22 L2158.40 945.67 L2161.01 946.39 L2163.62 947.11 L2166.23 947.81 L2168.84 947.62 L2171.45 947.44 L2174.06 947.25 L2176.67 936.55 L2179.28 928.14 L2181.89 922.62 L2184.49 918.27 L2187.10 914.56 L2189.71 912.03 L2192.32 911.53 L2194.93 911.16 L2197.54 912.00 L2200.15 912.83 L2202.76 913.85 L2205.37 915.19 L2207.98 916.53 L2210.59 917.87 L2213.20 919.35 L2215.81 921.21 L2218.42 923.08 L2221.02 925.15 L2223.63 929.29 L2226.24 933.56 L2228.85 938.20 L2231.46 942.38 L2234.07 945.99 L2236.68 949.15 L2239.29 950.26 L2241.90 951.36 L2244.51 951.01 L2247.12 950.51 L2249.73 950.01 L2252.34 949.33 L2254.95 948.19 L2257.55 947.04 L2260.16 945.90 L2262.77 944.81 L2265.38 943.72 L2267.99 943.77 L2270.60 945.88 L2273.21 948.07 L2275.82 951.18 L2278.43 954.29 L2281.04 955.78 L2283.65 956.88 L2286.26 956.81 L2288.87 955.71 L2291.48 954.46 L2294.08 952.81 L2296.69 951.16 L2299.30 949.55 L2301.91 948.43 L2304.52 947.30 L2307.13 946.17 L2309.74 944.58 L2312.35 942.41 L2314.96 940.23 L2317.57 937.33 L2320.18 934.11 L2322.79 930.95 L2325.40 927.84 L2328.01 924.98 L2330.61 923.48 L2333.22 921.97 L2335.83 920.90 L2338.44 920.40 L2341.05 920.34 L2343.66 922.65 L2346.27 924.96 L2348.88 930.55 L2351.49 936.50 L2354.10 945.11 L2356.71 953.83 L2359.32 960.77 L2361.93 964.13 L2364.54 964.93 L2367.14 965.34 L2369.75 963.59 L2372.36 961.83 L2374.97 960.54 L2377.58 959.87 L2380.19 959.20 L2382.80 958.54" fill="none" stroke="#ff6384" stroke-width="3"/><g fill="#ff6384"><circle cx="1511.30" cy="942.84" r="3.6"/><circle cx="1513.91" cy="943.29" r="3.6"/><circle cx="1516.52" cy="943.57" r="3.6"/><circle cx="1519.13" cy="942.12" r="3.6"/><circle cx="1521.74" cy="940.75" r="3.6"/><circle cx="1524.35" cy="940.95" r="3.6"/><circle cx="1526.96" cy="941.15" r="3.6"/><circle cx="1529.56" cy="938.22" r="3.6"/><circle cx="1532.17" cy="934.76" r="3.6"/><circle cx="1534.78" cy="931.87" r="3.6"/><circle cx="1537.39" cy="928.56" r="3.6"/><circle cx="1540.00" cy="924.55" r="3.6"/><circle cx="1542.61" cy="921.04" r="3.6"/><circle cx="1545.22" cy="918.63" r="3.6"/><circle cx="1547.83" cy="916.37" r="3.6"/><circle cx="1550.44" cy="917.26" r="3.6"/><circle cx="1553.05" cy="918.15" r="3.6"/><circle cx="1555.66" cy="919.04" r="3.6"/><circle cx="1558.27" cy="919.93" r="3.6"/><circle cx="1560.88" cy="917.44" r="3.6"/><circle cx="1563.49" cy="914.76" r="3.6"/><circle cx="1566.09" cy="916.41" r="3.6"/><circle cx="1568.70" cy="918.53" r="3.6"/><circle cx="1571.31" cy="917.72" r="3.6"/><circle cx="1573.92" cy="916.42" r="3.6"/><circle cx="1576.53" cy="913.97" r="3.6"/><circle cx="1579.14" cy="910.71" r="3.6"/><circle cx="1581.75" cy="910.92" r="3.6"/><circle cx="1584.36" cy="912.21" r="3.6"/><circle cx="1586.97" cy="913.50" r="3.6"/><circle cx="1589.58" cy="914.05" r="3.6"/><circle cx="1592.19" cy="914.05" r="3.6"/><circle cx="1594.80" cy="914.05" r="3.6"/><circle cx="1597.41" cy="917.03" r="3.6"/><circle cx="1600.02" cy="920.49" r="3.6"/><circle cx="1602.62" cy="922.09" r="3.6"/><circle cx="1605.23" cy="923.70" r="3.6"/><circle cx="1607.84" cy="925.80" r="3.6"/><circle cx="1610.45" cy="928.05" r="3.6"/><circle cx="1613.06" cy="929.42" r="3.6"/><circle cx="1615.67" cy="930.72" r="3.6"/><circle cx="1618.28" cy="931.16" r="3.6"/><circle cx="1620.89" cy="931.16" r="3.6"/><circle cx="1623.50" cy="933.36" r="3.6"/><circle cx="1626.11" cy="935.97" r="3.6"/><circle cx="1628.72" cy="942.06" r="3.6"/><circle cx="1631.33" cy="945.91" r="3.6"/><circle cx="1633.94" cy="949.15" r="3.6"/><circle cx="1636.55" cy="952.39" r="3.6"/><circle cx="1639.15" cy="950.17" r="3.6"/><circle cx="1641.76" cy="947.56" r="3.6"/><circle cx="1644.37" cy="943.45" r="3.6"/><circle cx="1646.98" cy="938.56" r="3.6"/><circle cx="1649.59" cy="939.97" r="3.6"/><circle cx="1652.20" cy="942.58" r="3.6"/><circle cx="1654.81" cy="946.12" r="3.6"/><circle cx="1657.42" cy="950.39" r="3.6"/><circle cx="1660.03" cy="949.84" r="3.6"/><circle cx="1662.64" cy="947.67" r="3.6"/><circle cx="1665.25" cy="945.48" r="3.6"/><circle cx="1667.86" cy="942.47" r="3.6"/><circle cx="1670.47" cy="939.46" r="3.6"/><circle cx="1673.08" cy="936.45" r="3.6"/><circle cx="1675.68" cy="938.37" r="3.6"/><circle cx="1678.29" cy="941.27" r="3.6"/><circle cx="1680.90" cy="937.93" r="3.6"/><circle cx="1683.51" cy="932.81" r="3.6"/><circle cx="1686.12" cy="927.10" r="3.6"/><circle cx="1688.73" cy="920.91" r="3.6"/><circle cx="1691.34" cy="922.60" r="3.6"/><circle cx="1693.95" cy="924.94" r="3.6"/><circle cx="1696.56" cy="922.49" r="3.6"/><circle cx="1699.17" cy="919.37" r="3.6"/><circle cx="1701.78" cy="920.34" r="3.6"/><circle cx="1704.39" cy="922.14" r="3.6"/><circle cx="1707.00" cy="925.23" r="3.6"/><circle cx="1709.61" cy="929.35" r="3.6"/><circle cx="1712.21" cy="934.14" r="3.6"/><circle cx="1714.82" cy="939.73" r="3.6"/><circle cx="1717.43" cy="943.74" r="3.6"/><circle cx="1720.04" cy="946.39" r="3.6"/><circle cx="1722.65" cy="947.95" r="3.6"/><circle cx="1725.26" cy="949.50" r="3.6"/><circle cx="1727.87" cy="951.06" r="3.6"/><circle cx="1730.48" cy="952.60" r="3.6"/><circle cx="1733.09" cy="951.26" r="3.6"/><circle cx="1735.70" cy="949.92" r="3.6"/><circle cx="1738.31" cy="948.59" r="3.6"/><circle cx="1740.92" cy="947.25" r="3.6"/><circle cx="1743.53" cy="944.79" r="3.6"/><circle cx="1746.14" cy="942.23" r="3.6"/><circle cx="1748.74" cy="939.66" r="3.6"/><circle cx="1751.35" cy="937.10" r="3.6"/><circle cx="1753.96" cy="935.17" r="3.6"/><circle cx="1756.57" cy="933.39" r="3.6"/><circle cx="1759.18" cy="931.61" r="3.6"/><circle cx="1761.79" cy="929.82" r="3.6"/><circle cx="1764.40" cy="926.78" r="3.6"/><circle cx="1767.01" cy="923.27" r="3.6"/><circle cx="1769.62" cy="923.06" r="3.6"/><circle cx="1772.23" cy="923.18" r="3.6"/><circle cx="1774.84" cy="923.31" r="3.6"/><circle cx="1777.45" cy="923.76" r="3.6"/><circle cx="1780.06" cy="925.10" r="3.6"/><circle cx="1782.67" cy="926.44" r="3.6"/><circle cx="1785.27" cy="928.83" r="3.6"/><circle cx="1787.88" cy="932.13" r="3.6"/><circle cx="1790.49" cy="929.55" r="3.6"/><circle cx="1793.10" cy="926.65" r="3.6"/><circle cx="1795.71" cy="926.37" r="3.6"/><circle cx="1798.32" cy="926.37" r="3.6"/><circle cx="1800.93" cy="927.37" r="3.6"/><circle cx="1803.54" cy="930.18" r="3.6"/><circle cx="1806.15" cy="932.99" r="3.6"/><circle cx="1808.76" cy="935.80" r="3.6"/><circle cx="1811.37" cy="934.58" r="3.6"/><circle cx="1813.98" cy="933.13" r="3.6"/><circle cx="1816.59" cy="934.59" r="3.6"/><circle cx="1819.20" cy="936.37" r="3.6"/><circle cx="1821.80" cy="928.29" r="3.6"/><circle cx="1824.41" cy="920.14" r="3.6"/><circle cx="1827.02" cy="918.02" r="3.6"/><circle cx="1829.63" cy="915.90" r="3.6"/><circle cx="1832.24" cy="921.39" r="3.6"/><circle cx="1834.85" cy="925.24" r="3.6"/><circle cx="1837.46" cy="926.42" r="3.6"/><circle cx="1840.07" cy="927.61" r="3.6"/><circle cx="1842.68" cy="929.08" r="3.6"/><circle cx="1845.29" cy="930.59" r="3.6"/><circle cx="1847.90" cy="939.87" r="3.6"/><circle cx="1850.51" cy="949.12" r="3.6"/><circle cx="1853.12" cy="955.15" r="3.6"/><circle cx="1855.73" cy="958.98" r="3.6"/><circle cx="1858.33" cy="959.98" r="3.6"/><circle cx="1860.94" cy="959.98" r="3.6"/><circle cx="1863.55" cy="954.79" r="3.6"/><circle cx="1866.16" cy="949.61" r="3.6"/><circle cx="1868.77" cy="944.43" r="3.6"/><circle cx="1871.38" cy="939.60" r="3.6"/><circle cx="1873.99" cy="939.60" r="3.6"/><circle cx="1876.60" cy="939.60" r="3.6"/><circle cx="1879.21" cy="943.69" r="3.6"/><circle cx="1881.82" cy="948.83" r="3.6"/><circle cx="1884.43" cy="954.40" r="3.6"/><circle cx="1887.04" cy="959.97" r="3.6"/><circle cx="1889.65" cy="958.75" r="3.6"/><circle cx="1892.26" cy="957.02" r="3.6"/><circle cx="1894.86" cy="947.21" r="3.6"/><circle cx="1897.47" cy="936.45" r="3.6"/><circle cx="1900.08" cy="933.61" r="3.6"/><circle cx="1902.69" cy="930.77" r="3.6"/><circle cx="1905.30" cy="927.70" r="3.6"/><circle cx="1907.91" cy="924.19" r="3.6"/><circle cx="1910.52" cy="924.38" r="3.6"/><circle cx="1913.13" cy="924.68" r="3.6"/><circle cx="1915.74" cy="922.67" r="3.6"/><circle cx="1918.35" cy="919.66" r="3.6"/><circle cx="1920.96" cy="921.06" r="3.6"/><circle cx="1923.57" cy="923.06" r="3.6"/><circle cx="1926.18" cy="920.65" r="3.6"/><circle cx="1928.79" cy="917.34" r="3.6"/><circle cx="1931.39" cy="904.67" r="3.6"/><circle cx="1934.00" cy="895.04" r="3.6"/><circle cx="1936.61" cy="893.78" r="3.6"/><circle cx="1939.22" cy="892.53" r="3.6"/><circle cx="1941.83" cy="890.56" r="3.6"/><circle cx="1944.44" cy="888.26" r="3.6"/><circle cx="1947.05" cy="885.97" r="3.6"/><circle cx="1949.66" cy="884.48" r="3.6"/><circle cx="1952.27" cy="883.78" r="3.6"/><circle cx="1954.88" cy="884.02" r="3.6"/><circle cx="1957.49" cy="887.33" r="3.6"/><circle cx="1960.10" cy="890.64" r="3.6"/><circle cx="1962.71" cy="894.95" r="3.6"/><circle cx="1965.31" cy="899.85" r="3.6"/><circle cx="1967.92" cy="905.11" r="3.6"/><circle cx="1970.53" cy="908.82" r="3.6"/><circle cx="1973.14" cy="912.08" r="3.6"/><circle cx="1975.75" cy="914.08" r="3.6"/><circle cx="1978.36" cy="916.03" r="3.6"/><circle cx="1980.97" cy="917.97" r="3.6"/><circle cx="1983.58" cy="920.14" r="3.6"/><circle cx="1986.19" cy="922.79" r="3.6"/><circle cx="1988.80" cy="925.45" r="3.6"/><circle cx="1991.41" cy="928.04" r="3.6"/><circle cx="1994.02" cy="930.30" r="3.6"/><circle cx="1996.63" cy="932.56" r="3.6"/><circle cx="1999.24" cy="934.82" r="3.6"/><circle cx="2001.84" cy="936.11" r="3.6"/><circle cx="2004.45" cy="936.42" r="3.6"/><circle cx="2007.06" cy="936.73" r="3.6"/><circle cx="2009.67" cy="937.05" r="3.6"/><circle cx="2012.28" cy="935.98" r="3.6"/><circle cx="2014.89" cy="934.69" r="3.6"/><circle cx="2017.50" cy="933.40" r="3.6"/><circle cx="2020.11" cy="928.32" r="3.6"/><circle cx="2022.72" cy="921.42" r="3.6"/><circle cx="2025.33" cy="916.57" r="3.6"/><circle cx="2027.94" cy="912.08" r="3.6"/><circle cx="2030.55" cy="908.45" r="3.6"/><circle cx="2033.16" cy="905.78" r="3.6"/><circle cx="2035.77" cy="906.58" r="3.6"/><circle cx="2038.37" cy="907.38" r="3.6"/><circle cx="2040.98" cy="909.93" r="3.6"/><circle cx="2043.59" cy="912.59" r="3.6"/><circle cx="2046.20" cy="915.24" r="3.6"/><circle cx="2048.81" cy="916.83" r="3.6"/><circle cx="2051.42" cy="918.08" r="3.6"/><circle cx="2054.03" cy="919.33" r="3.6"/><circle cx="2056.64" cy="920.23" r="3.6"/><circle cx="2059.25" cy="918.60" r="3.6"/><circle cx="2061.86" cy="916.97" r="3.6"/><circle cx="2064.47" cy="915.34" r="3.6"/><circle cx="2067.08" cy="912.01" r="3.6"/><circle cx="2069.69" cy="906.87" r="3.6"/><circle cx="2072.30" cy="899.97" r="3.6"/><circle cx="2074.90" cy="890.11" r="3.6"/><circle cx="2077.51" cy="883.40" r="3.6"/><circle cx="2080.12" cy="879.43" r="3.6"/><circle cx="2082.73" cy="877.67" r="3.6"/><circle cx="2085.34" cy="875.92" r="3.6"/><circle cx="2087.95" cy="876.24" r="3.6"/><circle cx="2090.56" cy="877.25" r="3.6"/><circle cx="2093.17" cy="879.25" r="3.6"/><circle cx="2095.78" cy="882.97" r="3.6"/><circle cx="2098.39" cy="888.15" r="3.6"/><circle cx="2101.00" cy="895.30" r="3.6"/><circle cx="2103.61" cy="902.97" r="3.6"/><circle cx="2106.22" cy="909.79" r="3.6"/><circle cx="2108.83" cy="916.26" r="3.6"/><circle cx="2111.43" cy="921.88" r="3.6"/><circle cx="2114.04" cy="925.06" r="3.6"/><circle cx="2116.65" cy="927.86" r="3.6"/><circle cx="2119.26" cy="928.93" r="3.6"/><circle cx="2121.87" cy="930.01" r="3.6"/><circle cx="2124.48" cy="931.08" r="3.6"/><circle cx="2127.09" cy="931.62" r="3.6"/><circle cx="2129.70" cy="932.13" r="3.6"/><circle cx="2132.31" cy="932.63" r="3.6"/><circle cx="2134.92" cy="933.13" r="3.6"/><circle cx="2137.53" cy="933.63" r="3.6"/><circle cx="2140.14" cy="934.15" r="3.6"/><circle cx="2142.75" cy="935.87" r="3.6"/><circle cx="2145.36" cy="937.59" r="3.6"/><circle cx="2147.96" cy="939.31" r="3.6"/><circle cx="2150.57" cy="940.96" r="3.6"/><circle cx="2153.18" cy="942.59" r="3.6"/><circle cx="2155.79" cy="944.22" r="3.6"/><circle cx="2158.40" cy="945.67" r="3.6"/><circle cx="2161.01" cy="946.39" r="3.6"/><circle cx="2163.62" cy="947.11" r="3.6"/><circle cx="2166.23" cy="947.81" r="3.6"/><circle cx="2168.84" cy="947.62" r="3.6"/><circle cx="2171.45" cy="947.44" r="3.6"/><circle cx="2174.06" cy="947.25" r="3.6"/><circle cx="2176.67" cy="936.55" r="3.6"/><circle cx="2179.28" cy="928.14" r="3.6"/><circle cx="2181.89" cy="922.62" r="3.6"/><circle cx="2184.49" cy="918.27" r="3.6"/><circle cx="2187.10" cy="914.56" r="3.6"/><circle cx="2189.71" cy="912.03" r="3.6"/><circle cx="2192.32" cy="911.53" r="3.6"/><circle cx="2194.93" cy="911.16" r="3.6"/><circle cx="2197.54" cy="912.00" r="3.6"/><circle cx="2200.15" cy="912.83" r="3.6"/><circle cx="2202.76" cy="913.85" r="3.6"/><circle cx="2205.37" cy="915.19" r="3.6"/><circle cx="2207.98" cy="916.53" r="3.6"/><circle cx="2210.59" cy="917.87" r="3.6"/><circle cx="2213.20" cy="919.35" r="3.6"/><circle cx="2215.81" cy="921.21" r="3.6"/><circle cx="2218.42" cy="923.08" r="3.6"/><circle cx="2221.02" cy="925.15" r="3.6"/><circle cx="2223.63" cy="929.29" r="3.6"/><circle cx="2226.24" cy="933.56" r="3.6"/><circle cx="2228.85" cy="938.20" r="3.6"/><circle cx="2231.46" cy="942.38" r="3.6"/><circle cx="2234.07" cy="945.99" r="3.6"/><circle cx="2236.68" cy="949.15" r="3.6"/><circle cx="2239.29" cy="950.26" r="3.6"/><circle cx="2241.90" cy="951.36" r="3.6"/><circle cx="2244.51" cy="951.01" r="3.6"/><circle cx="2247.12" cy="950.51" r="3.6"/><circle cx="2249.73" cy="950.01" r="3.6"/><circle cx="2252.34" cy="949.33" r="3.6"/><circle cx="2254.95" cy="948.19" r="3.6"/><circle cx="2257.55" cy="947.04" r="3.6"/><circle cx="2260.16" cy="945.90" r="3.6"/><circle cx="2262.77" cy="944.81" r="3.6"/><circle cx="2265.38" cy="943.72" r="3.6"/><circle cx="2267.99" cy="943.77" r="3.6"/><circle cx="2270.60" cy="945.88" r="3.6"/><circle cx="2273.21" cy="948.07" r="3.6"/><circle cx="2275.82" cy="951.18" r="3.6"/><circle cx="2278.43" cy="954.29" r="3.6"/><circle cx="2281.04" cy="955.78" r="3.6"/><circle cx="2283.65" cy="956.88" r="3.6"/><circle cx="2286.26" cy="956.81" r="3.6"/><circle cx="2288.87" cy="955.71" r="3.6"/><circle cx="2291.48" cy="954.46" r="3.6"/><circle cx="2294.08" cy="952.81" r="3.6"/><circle cx="2296.69" cy="951.16" r="3.6"/><circle cx="2299.30" cy="949.55" r="3.6"/><circle cx="2301.91" cy="948.43" r="3.6"/><circle cx="2304.52" cy="947.30" r="3.6"/><circle cx="2307.13" cy="946.17" r="3.6"/><circle cx="2309.74" cy="944.58" r="3.6"/><circle cx="2312.35" cy="942.41" r="3.6"/><circle cx="2314.96" cy="940.23" r="3.6"/><circle cx="2317.57" cy="937.33" r="3.6"/><circle cx="2320.18" cy="934.11" r="3.6"/><circle cx="2322.79" cy="930.95" r="3.6"/><circle cx="2325.40" cy="927.84" r="3.6"/><circle cx="2328.01" cy="924.98" r="3.6"/><circle cx="2330.61" cy="923.48" r="3.6"/><circle cx="2333.22" cy="921.97" r="3.6"/><circle cx="2335.83" cy="920.90" r="3.6"/><circle cx="2338.44" cy="920.40" r="3.6"/><circle cx="2341.05" cy="920.34" r="3.6"/><circle cx="2343.66" cy="922.65" r="3.6"/><circle cx="2346.27" cy="924.96" r="3.6"/><circle cx="2348.88" cy="930.55" r="3.6"/><circle cx="2351.49" cy="936.50" r="3.6"/><circle cx="2354.10" cy="945.11" r="3.6"/><circle cx="2356.71" cy="953.83" r="3.6"/><circle cx="2359.32" cy="960.77" r="3.6"/><circle cx="2361.93" cy="964.13" r="3.6"/><circle cx="2364.54" cy="964.93" r="3.6"/><circle cx="2367.14" cy="965.34" r="3.6"/><circle cx="2369.75" cy="963.59" r="3.6"/><circle cx="2372.36" cy="961.83" r="3.6"/><circle cx="2374.97" cy="960.54" r="3.6"/><circle cx="2377.58" cy="959.87" r="3.6"/><circle cx="2380.19" cy="959.20" r="3.6"/><circle cx="2382.80" cy="958.54" r="3.6"/></g><text x="0" y="0" dy="8.9" text-anchor="end" transform="translate(1506.90,1016.9) rotate(-50)">19.02. 00:00</text><text x="0" y="0" dy="8.9" text-anchor="end" transform="translate(1530.38,1016.9) rotate(-50)">04:30</text><text x="0" y="0" dy="8.9" text-anchor="end" transform="translate(1553.87,1016.9) rotate(-50)">09:00</text><text x="0" y="0" dy="8.9" text-anchor="end" transform="translate(1577.35,1016.9) rotate(-50)">13:30</text><text x="0" y="0" dy="8.9" text-anchor="end" transform="translate(1600.83,1016.9) rotate(-50)">18:00</text><text x="0" y="0" dy="8.9" text-anchor="end" transform="translate(1624.32,1016.9) rotate(-50)">22:30</text><text x="0" y="0" dy="8.9" text-anchor="end" transform="translate(1647.80,1016.9) rotate(-50)">03:00</text><text x="0" y="0" dy="8.9" text-anchor="end" transform="translate(1671.28,1016.9) rotate(-50)">07:30</text><text x="0" y="0" dy="8.9" text-anchor="end" transform="translate(1694.77,1016.9) rotate(-50)">12:00</text><text x="0" y="0" dy="8.9" text-anchor="end" transform="translate(1718.25,1016.9) rotate(-50)">16:30</text><text x="0" y="0" dy="8.9" text-anchor="end" transform="translate(1741.74,1016.9) rotate(-50)">21:00</text><text x="0" y="0" dy="8.9" text-anchor="end" transform="translate(1765.22,1016.9) rotate(-50)">01:30</text><text x="0" y="0" dy="8.9" text-anchor="end" transform="translate(1788.70,1016.9) rotate(-50)">06:00</text><text x="0" y="0" dy="8.9" text-anchor="end" transform="translate(1812.19,1016.9) rotate(-50)">10:30</text><text x="0" y="0" dy="8.9" text-anchor="end" transform="translate(1835.67,1016.9) rotate(-50)">15:00</text><text x="0" y="0" dy="8.9" text-anchor="end" transform="translate(1859.15,1016.9) rotate(-50)">19:30</text><text x="0" y="0" dy="8.9" text-anchor="end" transform="translate(1882.64,1016.9) rotate(-50)">22.02. 00:00</text><text x="0" y="0" dy="8.9" text-anchor="end" transform="translate(1906.12,1016.9) rotate(-50)">04:30</text><text x="0" y="0" dy="8.9" text-anchor="end" transform="translate(1929.60,1016.9) rotate(-50)">09:00</text><text x="0" y="0" dy="8.9" text-anchor="end" transform="translate(1953.09,1016.9) rotate(-50)">13:30</text><text x="0" y="0" dy="8.9" text-anchor="end" transform="translate(1976.57,1016.9) rotate(-50)">18:00</text><text x="0" y="0" dy="8.9" text-anchor="end" transform="translate(2000.05,1016.9) rotate(-50)">22:30</text><text x="0" y="0" dy="8.9" text-anchor="end" transform="translate(2023.54,1016.9) rotate(-50)">03:00</text><text x="0" y="0" dy="8.9" text-anchor="end" transform="translate(2047.02,1016.9) rotate(-50)">07:30</text><text x="0" y="0" dy="8.9" text-anchor="end" transform="translate(2070.50,1016.9) rotate(-50)">12:00</text><text x="0" y="0" dy="8.9" text-anchor="end" transform="translate(2093.99,1016.9) rotate(-50)">16:30</text><text x="0" y="0" dy="8.9" text-anchor="end" transform="translate(2117.47,1016.9) rotate(-50)">21:00</text><text x="0" y="0" dy="8.9" text-anchor="end" transform="translate(2140.96,1016.9) rotate(-50)">01:30</text><text x="0" y="0" dy="8.9" text-anchor="end" transform="translate(2164.44,1016.9) rotate(-50)">06:00</text><text x="0" y="0" dy="8.9" text-anchor="end" transform="translate(2187.92,1016.9) rotate(-50)">10:30</text><text x="0" y="0" dy="8.9" text-anchor="end" transform="translate(2211.41,1016.9) rotate(-50)">15:00</text><text x="0" y="0" dy="8.9" text-anchor="end" transform="translate(2234.89,1016.9) rotate(-50)">19:30</text><text x="0" y="0" dy="8.9" text-anchor="end" transform="translate(2258.37,1016.9) rotate(-50)">25.02. 00:00</text><text x="0" y="0" dy="8.9" text-anchor="end" transform="translate(2281.86,1016.9) rotate(-50)">04:30</text><text x="0" y="0" dy="8.9" text-anchor="end" transform="translate(2305.34,1016.9) rotate(-50)">09:00</text><text x="0" y="0" dy="8.9" text-anchor="end" transform="translate(2328.82,1016.9) rotate(-50)">13:30</text><text x="0" y="0" dy="8.9" text-anchor="end" transform="translate(2352.31,1016.9) rotate(-50)">18:00</text><text x="0" y="0" dy="8.9" text-anchor="end" transform="translate(2375.79,1016.9) rotate(-50)">22:30</text><text x="1927.8" y="822.1" text-anchor="middle" font-weight="700">Windböen (30-Minuten-Intervall)</text><rect x="1859.6" y="845.3" width="40" height="12" fill="#ff6384" stroke="#ff6384" stroke-width="3"/><text x="1905.3" y="854.9">Windböen (km/h)</text><text x="1947.1" y="1093.3" text-anchor="middle">Zeit</text></svg>
<div style="position:absolute;left:306px;top:1209px;width:2231px;height:1px;background:#d8dae0"></div>
<div class="t" style="left:326.20px;top:1230.57px;font-size:20px;color:#252b36;letter-spacing:-0.137px;">Jannek Mustermann</div>
<div class="t" style="left:2063.20px;top:1229.97px;font-size:20px;color:#252b36;letter-spacing:-0.168px;">© 2026 BIT Informationssysteme GmbH | <a>Hilfe</a> | <a>5.0.0</a></div>
</body></html>
